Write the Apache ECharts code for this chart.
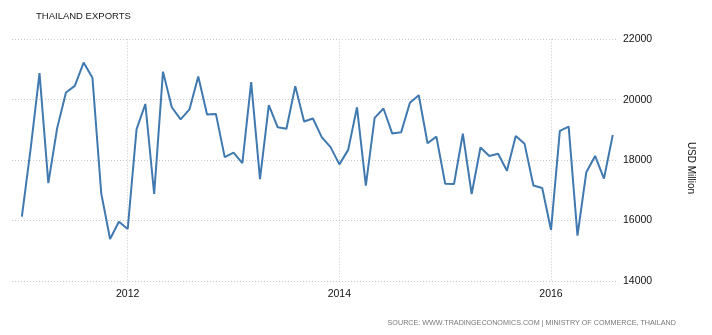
<!DOCTYPE html>
<html>
<head>
<meta charset="utf-8">
<script src="https://cdn.jsdelivr.net/npm/echarts@6/dist/echarts.min.js"></script>
<style>html,body{margin:0;padding:0;background:#fff}#c{width:712px;height:335px}</style>
</head>
<body>
<div id="c"></div>
<script>
var months = ['2011-01','2011-02','2011-03','2011-04','2011-05','2011-06','2011-07','2011-08','2011-09','2011-10','2011-11','2011-12',
'2012-01','2012-02','2012-03','2012-04','2012-05','2012-06','2012-07','2012-08','2012-09','2012-10','2012-11','2012-12',
'2013-01','2013-02','2013-03','2013-04','2013-05','2013-06','2013-07','2013-08','2013-09','2013-10','2013-11','2013-12',
'2014-01','2014-02','2014-03','2014-04','2014-05','2014-06','2014-07','2014-08','2014-09','2014-10','2014-11','2014-12',
'2015-01','2015-02','2015-03','2015-04','2015-05','2015-06','2015-07','2015-08','2015-09','2015-10','2015-11','2015-12',
'2016-01','2016-02','2016-03','2016-04','2016-05','2016-06','2016-07','2016-08'];
var exportsUSD = [16130,18390,20880,17240,19060,20240,20460,21230,20730,16900,15390,15960,
15720,19020,19860,16880,20930,19750,19350,19680,20770,19510,19530,18100,
18250,17900,20580,17370,19820,19090,19040,20450,19280,19380,18760,18430,
17860,18340,19750,17160,19400,19710,18880,18920,19900,20150,18560,18780,
17220,17210,18880,16880,18420,18140,18210,17650,18800,18540,17160,17080,
15690,18970,19110,15500,17600,18140,17390,18830];
var yearTicks = [2012, 2014, 2016];
var yTicks = [14000, 16000, 18000, 20000, 22000];

// x position = months since January 2012
function monthIndex(m){ var p = m.split('-'); return (+p[0]-2012)*12 + (+p[1]-1); }
var seriesData = months.map(function(m,i){ return [monthIndex(m), exportsUSD[i]]; });
var tickPos = yearTicks.map(function(y){ return (y-2012)*12; });

var chart = echarts.init(document.getElementById('c'), null, {renderer:'canvas'});
chart.setOption({
  animation: false,
  backgroundColor: '#fff',
  title: {
    text: 'THAILAND EXPORTS', left: 31, top: 6,
    textStyle: {fontFamily: 'Liberation Sans', fontSize: 9.5, fontWeight: 'normal', color: '#1a1a1a'}
  },
  grid: {left: 12, right: 95, top: 39.3, bottom: 54, containLabel: false},
  xAxis: {
    type: 'value',
    min: -13.12, max: 55.48,
    axisLine: {show: false},
    axisTick: {show: false, customValues: tickPos},
    axisLabel: {
      customValues: tickPos,
      margin: 8,
      fontFamily: 'Liberation Sans', fontSize: 10.5, color: '#111',
      formatter: function(v){ return String(2012 + Math.round(v/12)); }
    },
    splitLine: {show: true, lineStyle: {type: [1,2], color: '#c8c8c8', width: 1}}
  },
  yAxis: {
    type: 'value', position: 'right',
    min: yTicks[0], max: yTicks[yTicks.length-1], interval: 2000,
    axisLine: {show: false}, axisTick: {show: false},
    axisLabel: {margin: 6, fontFamily: 'Liberation Sans', fontSize: 10.5, color: '#111',
      formatter: function(v){ return String(v); }},
    splitLine: {show: true, lineStyle: {type: [1,2], color: '#c8c8c8', width: 1}}
  },
  graphic: [
    {type: 'text', x: 691, y: 168, rotation: -Math.PI/2,
     style: {text: 'USD Million', fontFamily: 'Liberation Sans', fontSize: 10, fill: '#111', align: 'center', verticalAlign: 'middle'}},
    {type: 'text', right: 36, top: 320,
     style: {text: 'SOURCE: WWW.TRADINGECONOMICS.COM | MINISTRY OF COMMERCE, THAILAND', fontFamily: 'Liberation Sans', fontSize: 7.2, fill: '#777'}}
  ],
  series: [{
    type: 'line', data: seriesData, showSymbol: false, symbol: 'none',
    lineStyle: {color: '#4079b0', width: 2}, itemStyle: {color: '#4079b0'}
  }]
});
</script>
</body>
</html>
